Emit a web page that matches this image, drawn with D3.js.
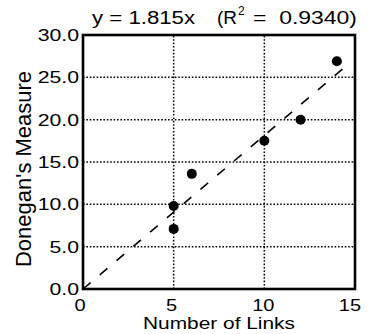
<!DOCTYPE html>
<html>
<head>
<meta charset="utf-8">
<script src="https://cdn.jsdelivr.net/npm/d3@7"></script>
<style>
  body { margin: 0; background: #fff; }
  svg text { font-family: "Liberation Sans", Arial, sans-serif; fill: #000; }
</style>
</head>
<body>
<svg id="chart" width="368" height="334"></svg>
<script>
// Donegan's measure vs number of links

const linksX = [5, 5, 6, 10, 12, 14];
const measureY = [7.1, 9.8, 13.6, 17.5, 20.0, 26.9];
const xTicks = [0, 5, 10, 15];
const yTicks = [0, 5, 10, 15, 20, 25, 30];
const slope = 1.815;
const fitRange = [0, 14.5];
const rSquared = "0.9340";

const svg = d3.select("#chart");
const margin = { top: 35, right: 13, bottom: 45, left: 83 };
const width = 368, height = 334;

const x = d3.scaleLinear().domain([0, 15]).range([margin.left, width - margin.right]);
const y = d3.scaleLinear().domain([0, 30]).range([height - margin.bottom, margin.top]);

// the scanned fonts look a bit wide, so stretch horizontally
const stretch = 1.25;

// Grid
const grid = svg.append("g")
  .attr("stroke", "#000")
  .attr("stroke-width", 1.5)
  .attr("stroke-dasharray", "1.6,1.8");

grid.selectAll("line.gx")
  .data(xTicks.filter((d) => d > 0 && d < 15))
  .join("line")
  .attr("class", "gx")
  .attr("x1", (d) => x(d)).attr("x2", (d) => x(d))
  .attr("y1", y(0)).attr("y2", y(30));

grid.selectAll("line.gy")
  .data(yTicks.filter((d) => d > 0 && d < 30))
  .join("line")
  .attr("class", "gy")
  .attr("x1", x(0)).attr("x2", x(15))
  .attr("y1", (d) => y(d)).attr("y2", (d) => y(d));

// Fit line
svg.append("line")
  .attr("x1", x(fitRange[0])).attr("y1", y(slope * fitRange[0]))
  .attr("x2", x(fitRange[1])).attr("y2", y(slope * fitRange[1]))
  .attr("stroke", "#000")
  .attr("stroke-width", 1.6)
  .attr("stroke-dasharray", "10,12");

// Points
svg.append("g")
  .selectAll("circle")
  .data(linksX.map((d, i) => [d, measureY[i]]))
  .join("circle")
  .attr("cx", (d) => x(d[0]))
  .attr("cy", (d) => y(d[1]))
  .attr("r", 5)
  .attr("fill", "#000");

// Frame
svg.append("rect")
  .attr("x", x(0)).attr("y", y(30))
  .attr("width", x(15) - x(0))
  .attr("height", y(0) - y(30))
  .attr("fill", "none")
  .attr("stroke", "#000")
  .attr("stroke-width", 2.6);

// Y tick labels
svg.append("g")
  .selectAll("text")
  .data(yTicks)
  .join("text")
  .attr("transform", (d) => `translate(${x(0) - 4},${y(d) + 6}) scale(${stretch},1)`)
  .attr("text-anchor", "end")
  .attr("font-size", 17)
  .text((d) => d3.format(".1f")(d));

// X tick labels
const xShift = { 0: -3, 5: -2, 10: -1, 15: -5 };
svg.append("g")
  .selectAll("text")
  .data(xTicks)
  .join("text")
  .attr("transform", (d) => `translate(${x(d) + xShift[d]},${y(0) + 22}) scale(1.25,1)`)
  .attr("text-anchor", "middle")
  .attr("font-size", 16)
  .text((d) => d);

// Axis titles
svg.append("text")
  .attr("x", 143)
  .attr("y", 329)
  .attr("font-size", 16)
  .attr("textLength", 152)
  .attr("lengthAdjust", "spacingAndGlyphs")
  .text("Number of Links");

svg.append("text")
  .attr("transform", `translate(31,169) rotate(-90)`)
  .attr("text-anchor", "middle")
  .attr("font-size", 22)
  .text("Donegan's Measure");

// Title pieces: y = 1.815x   (R² = 0.9340)
const title = svg.append("g").attr("font-size", 18);
title.append("text")
  .attr("x", 92).attr("y", 24)
  .attr("textLength", 103).attr("lengthAdjust", "spacingAndGlyphs")
  .text("y = " + slope + "x");
title.append("text")
  .attr("x", 217).attr("y", 24)
  .attr("textLength", 20).attr("lengthAdjust", "spacingAndGlyphs")
  .text("(R");
title.append("text")
  .attr("x", 238).attr("y", 15)
  .attr("font-size", 12)
  .text("2");
title.append("text")
  .attr("x", 253).attr("y", 24)
  .attr("textLength", 104).attr("lengthAdjust", "spacingAndGlyphs")
  .attr("xml:space", "preserve")
  .style("white-space", "pre")
  .text("=  " + rSquared + ")");
</script>
</body>
</html>
